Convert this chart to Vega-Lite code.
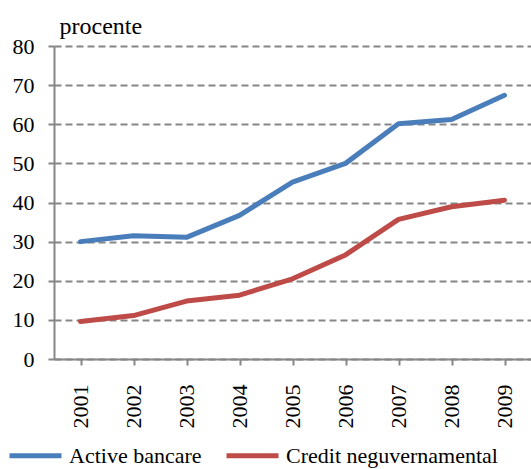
{
  "$schema": "https://vega.github.io/schema/vega-lite/v6.json",
  "width": 477,
  "height": 313,
  "autosize": {"type": "none"},
  "padding": {"left": 54, "top": 46, "right": 0, "bottom": 110},
  "background": "white",
  "config": {
    "font": "Liberation Serif",
    "axis": {"labelFont": "Liberation Serif", "titleFont": "Liberation Serif"},
    "legend": {"labelFont": "Liberation Serif"},
    "view": {"stroke": null}
  },
  "data": {
    "values": [
      {"an": "2001", "serie": "Active bancare", "valoare": 30.0},
      {"an": "2002", "serie": "Active bancare", "valoare": 31.5},
      {"an": "2003", "serie": "Active bancare", "valoare": 31.1},
      {"an": "2004", "serie": "Active bancare", "valoare": 36.7},
      {"an": "2005", "serie": "Active bancare", "valoare": 45.2},
      {"an": "2006", "serie": "Active bancare", "valoare": 50.0},
      {"an": "2007", "serie": "Active bancare", "valoare": 60.1},
      {"an": "2008", "serie": "Active bancare", "valoare": 61.2},
      {"an": "2009", "serie": "Active bancare", "valoare": 67.4},
      {"an": "2001", "serie": "Credit neguvernamental", "valoare": 9.6},
      {"an": "2002", "serie": "Credit neguvernamental", "valoare": 11.1},
      {"an": "2003", "serie": "Credit neguvernamental", "valoare": 14.8},
      {"an": "2004", "serie": "Credit neguvernamental", "valoare": 16.3},
      {"an": "2005", "serie": "Credit neguvernamental", "valoare": 20.5},
      {"an": "2006", "serie": "Credit neguvernamental", "valoare": 26.6},
      {"an": "2007", "serie": "Credit neguvernamental", "valoare": 35.7},
      {"an": "2008", "serie": "Credit neguvernamental", "valoare": 38.9},
      {"an": "2009", "serie": "Credit neguvernamental", "valoare": 40.6}
    ]
  },
  "mark": {"type": "line", "strokeWidth": 5, "strokeCap": "round", "strokeJoin": "round"},
  "encoding": {
    "x": {
      "field": "an",
      "type": "ordinal",
      "scale": {"paddingInner": 0, "paddingOuter": 0},
      "axis": {
        "title": null,
        "bandPosition": 0,
        "grid": false,
        "domainColor": "#868686",
        "domainWidth": 2,
        "tickColor": "#868686",
        "tickWidth": 2,
        "tickSize": 6,
        "labelAngle": 270,
        "labelPadding": 19,
        "labelFontSize": 22,
        "labelColor": "black",
        "labelFont": "Liberation Serif"
      }
    },
    "y": {
      "field": "valoare",
      "type": "quantitative",
      "scale": {"domain": [0, 80], "nice": false},
      "axis": {
        "title": "procente",
        "titleAngle": 0,
        "titleAlign": "left",
        "titleBaseline": "alphabetic",
        "titleX": 5,
        "titleY": -13,
        "titleFontSize": 24,
        "titleFontWeight": "normal",
        "titleColor": "black",
        "titleFont": "Liberation Serif",
        "values": [0, 10, 20, 30, 40, 50, 60, 70, 80],
        "grid": true,
        "gridColor": "#868686",
        "gridWidth": 2,
        "gridDash": [7, 4],
        "domainColor": "#868686",
        "domainWidth": 2,
        "tickColor": "#868686",
        "tickWidth": 2,
        "tickSize": 6,
        "labelPadding": 14,
        "labelFontSize": 22,
        "labelColor": "black",
        "labelFont": "Liberation Serif"
      }
    },
    "color": {
      "field": "serie",
      "type": "nominal",
      "scale": {
        "domain": ["Active bancare", "Credit neguvernamental"],
        "range": ["#4a7ebb", "#be4b48"]
      },
      "legend": {
        "title": null,
        "orient": "none",
        "direction": "horizontal",
        "legendX": -47,
        "legendY": 381,
        "symbolType": "stroke",
        "symbolSize": 2704,
        "symbolStrokeWidth": 5,
        "labelFontSize": 22,
        "labelFont": "Liberation Serif",
        "labelColor": "black",
        "labelOffset": 5,
        "labelLimit": 0,
        "columnPadding": 14
      }
    }
  }
}
